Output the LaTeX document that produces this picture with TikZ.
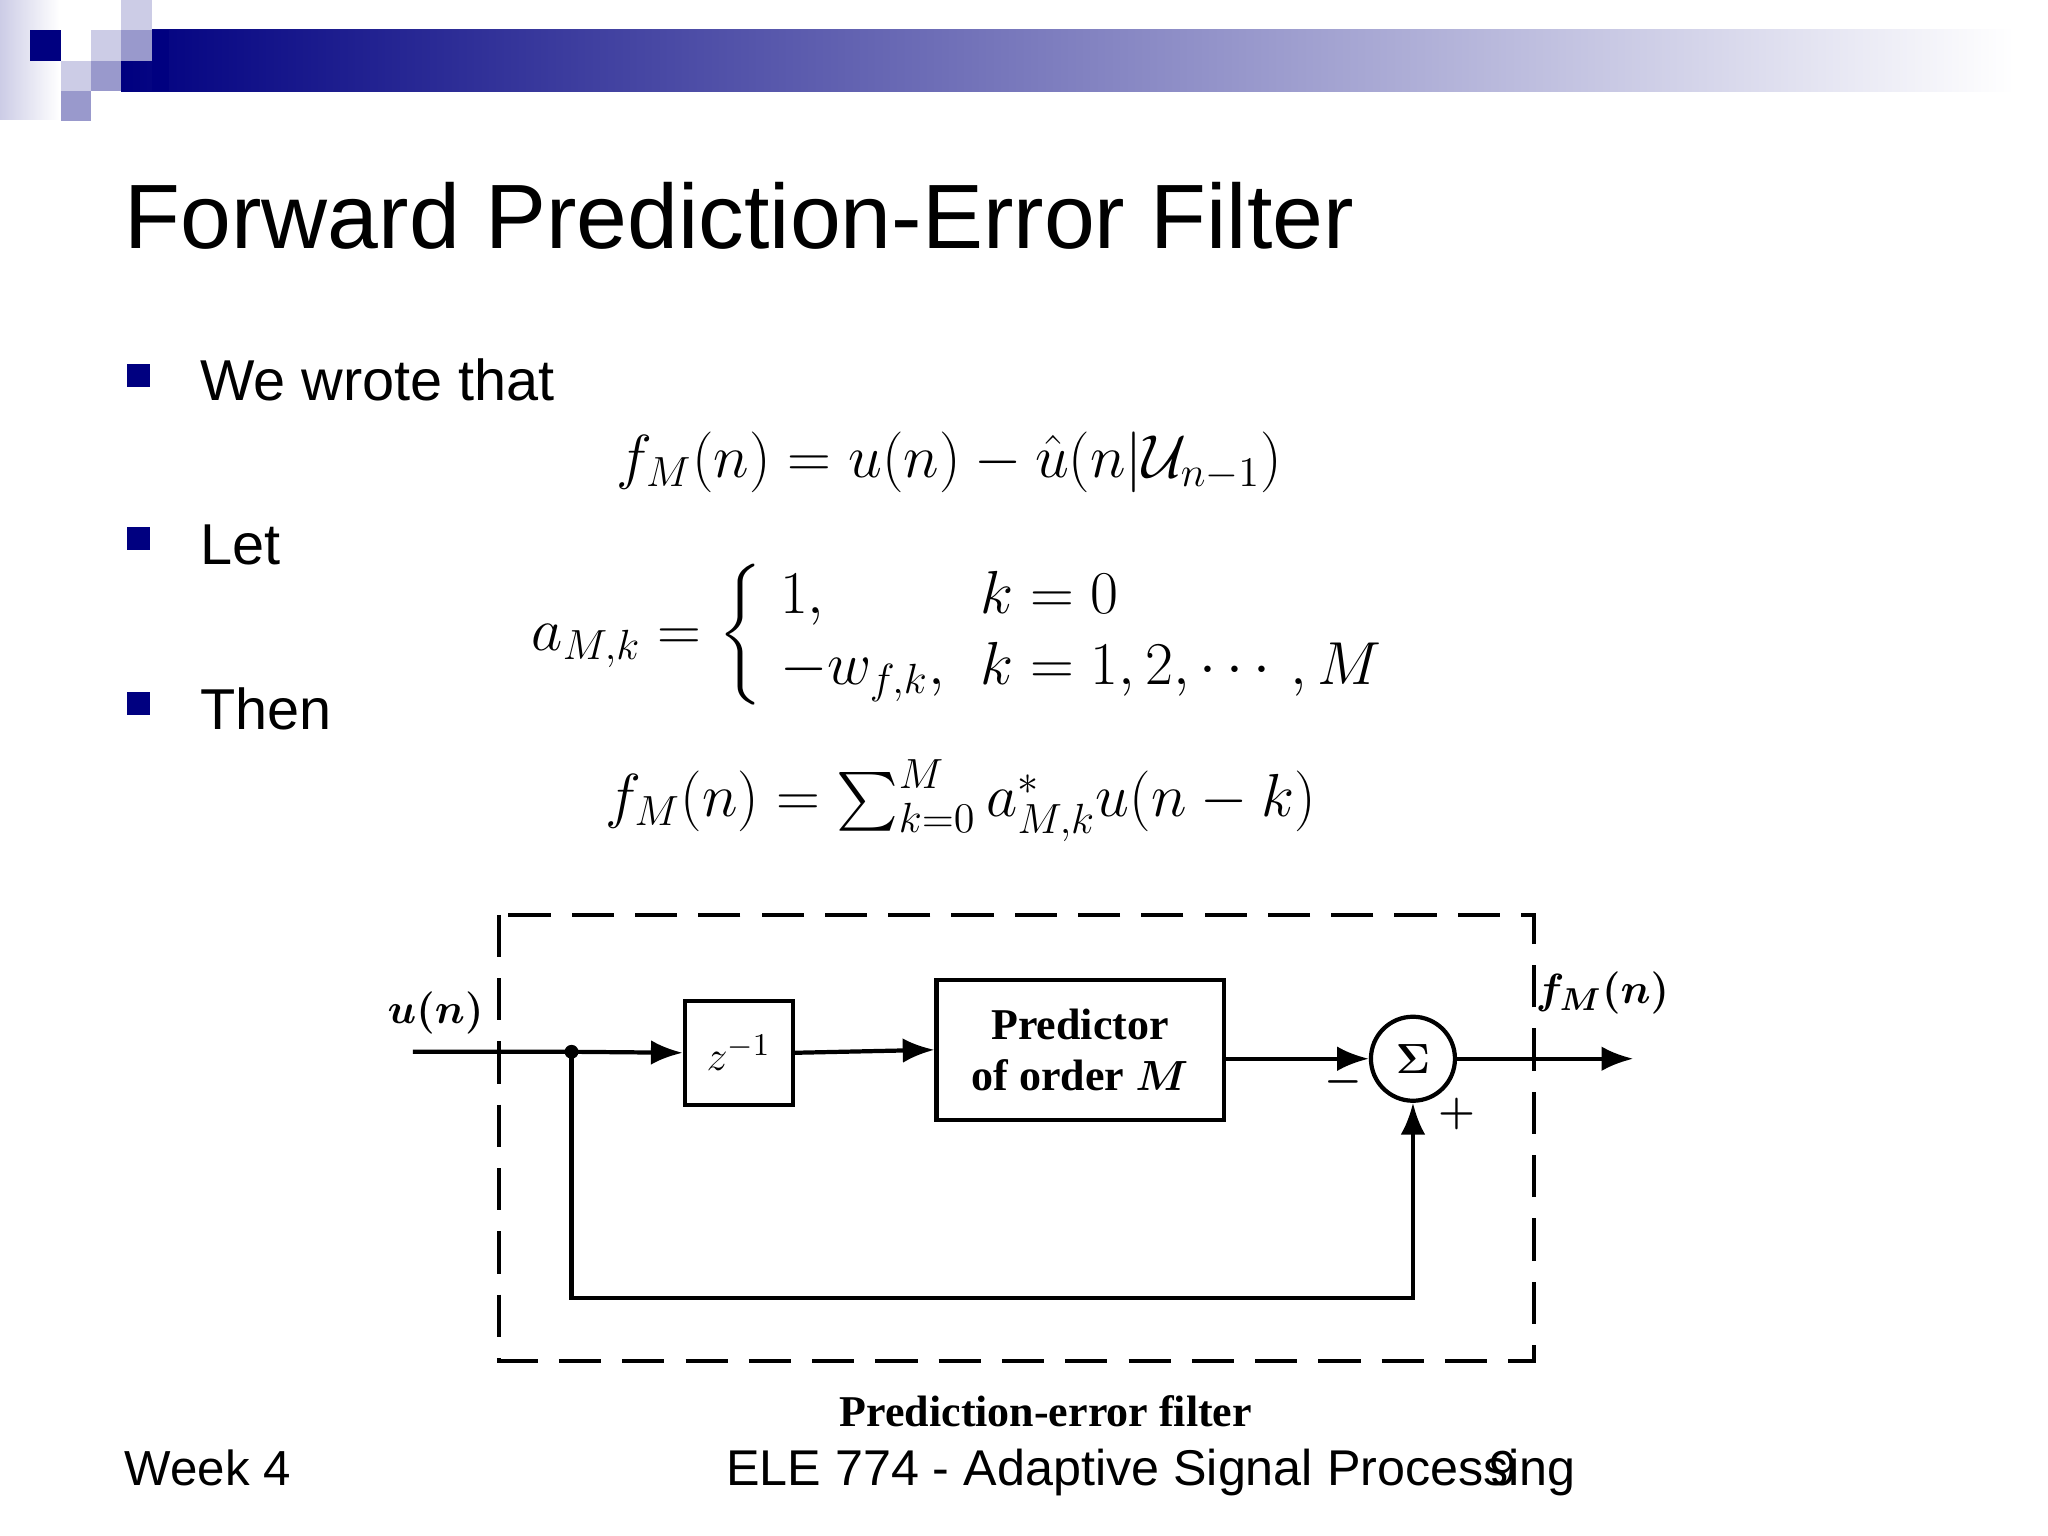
\documentclass[tikz,border=0pt]{standalone}
\usepackage{amsmath,amssymb}
\usepackage{fontspec}
\setmainfont{Liberation Sans}
\newfontfamily\dserif{Liberation Serif}
\usetikzlibrary{arrows.meta}
\definecolor{navy}{RGB}{0,0,128}
\definecolor{lsq}{RGB}{204,204,230}
\definecolor{msq}{RGB}{153,153,204}
\tikzset{
  blk/.style={draw,line width=1.2pt},
  sig/.style={line width=1.2pt,-{Latex[length=9pt,width=7pt]}},
  dlab/.style={font=\dserif\bfseries\fontsize{12.5}{14.5}\selectfont},
  bul/.style={fill=navy,minimum size=0.23cm,inner sep=0pt},
  btxt/.style={anchor=base west,inner sep=0pt,font=\fontsize{16.4}{20}\selectfont},
  eq/.style={anchor=base,font=\fontsize{16.7}{20}\selectfont},
}
\begin{document}
\begin{tikzpicture}[x=0.00992cm,y=-0.00992cm]
\useasboundingbox (0,0) rectangle (2064,1548);
\fill[white] (0,0) rectangle (2064,1548);
% header
\shade[left color=lsq,right color=white] (0,0) rectangle (60,120);
\shade[left color=navy,right color=white] (122,30) rectangle (2030,92);
\fill[navy] (30,30) rectangle (61,61);
\fill[lsq] (92,30) rectangle (122,61);
\fill[msq] (122,30) rectangle (153,61);
\fill[lsq] (122,0) rectangle (153,30);
\fill[lsq] (61,61) rectangle (92,92);
\fill[msq] (92,61) rectangle (122,92);
\fill[msq] (61,92) rectangle (122,122);
\fill[white] (92,92) rectangle (122,122);
\fill[navy] (153,30) rectangle (170,92);
\node[anchor=base west,inner sep=0pt,font=\fontsize{26}{31}\selectfont] (title) at (125,250) {Forward Prediction-Error Filter};
% bullets
\node[bul] (b1) at (140,378) {};
\node[bul] (b2) at (140,543) {};
\node[bul] (b3) at (140,709) {};
\node[btxt] (t1) at (201,404) {We wrote that};
\node[btxt] (t2) at (201,569) {Let};
\node[btxt] (t3) at (201,735) {Then};
% equations
\node[eq] (e1) at (957,481) {$f_M(n)=u(n)-\hat u(n|\mathcal{U}_{n-1})$};
\node[eq,anchor=center] (e2) at (975,640) {$a_{M,k}=\left\{\begin{array}{ll}1, & k=0\\ -w_{f,k}, & k=1,2,\cdots,M\end{array}\right.$};
\node[eq] (e3) at (968,823) {$f_M(n)=\sum_{k=0}^{M}a^*_{M,k}u(n-k)$};
% diagram
\draw[line width=1.2pt,dash pattern=on 12pt off 6pt] (503,922) rectangle (1546,1372);
\coordinate (in) at (416,1060);
\coordinate (j) at (576,1060);
\node[blk,minimum width=1.08cm,minimum height=1.04cm,font=\dserif\fontsize{13}{15}\selectfont] (z) at (744.5,1061) {$z^{-1}$};
\node[blk,minimum width=2.87cm,minimum height=1.4cm,dlab,align=center] (p) at (1088.5,1058) {Predictor\\of order $\boldsymbol{M}$};
\node[draw,circle,line width=1.2pt,minimum size=0.84cm,inner sep=0pt,font=\fontsize{13}{15}\selectfont] (s) at (1424,1067) {$\boldsymbol{\Sigma}$};
\coordinate (out) at (1646,1067);
\coordinate (b1c) at (576,1308);
\coordinate (b2c) at (s.south|-b1c);
\draw[sig] (in) -- (j) -- (z.west);
\fill (j) circle (7);
\draw[sig] (z.east) -- (p.west);
\draw[sig] (p.east|-s.west) -- (s.west);
\draw[sig] (s.east) -- (out);
\draw[sig] (j) -- (b1c) -- (b2c) -- (s.south);
\node[dlab] (ul) at (439,1021) {$\boldsymbol{u(n)}$};
\node[dlab] (fl) at (1615,1001) {$\boldsymbol{f_M(n)}$};
\node[dlab] (mn) at (1354,1090) {$\boldsymbol{-}$};
\node[dlab] (pl) at (1468,1123) {$\boldsymbol{+}$};
\node[dlab] (cap) at (1054,1422) {Prediction-error filter};
% footer
\node[anchor=base west,inner sep=0pt,font=\fontsize{14}{17}\selectfont] (wk) at (125,1497) {Week 4};
\node[anchor=base,inner sep=0pt,font=\fontsize{14.3}{17}\selectfont] (ft) at (1160,1497) {ELE 774 - Adaptive Signal Processing};
\node[anchor=base,inner sep=0pt,font=\fontsize{14}{17}\selectfont] (pg) at (1515,1497) {9};
\end{tikzpicture}
\end{document}
